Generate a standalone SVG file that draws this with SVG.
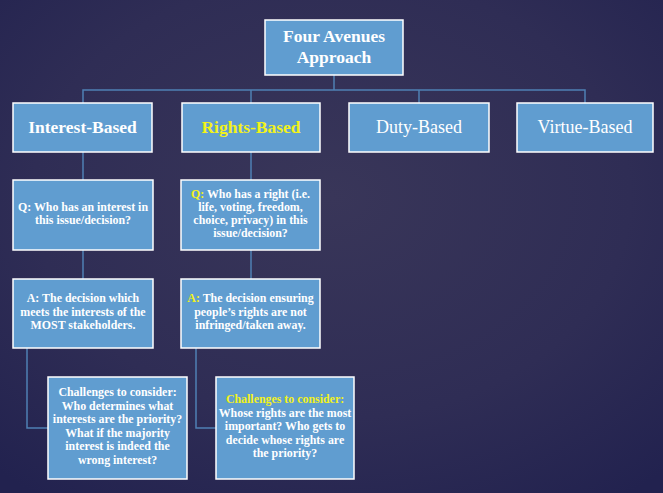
<svg xmlns="http://www.w3.org/2000/svg" width="663" height="493" viewBox="0 0 663 493">
<defs>
<radialGradient id="bg" cx="0.5" cy="0.4" r="0.75">
<stop offset="0" stop-color="#393659"/>
<stop offset="0.6" stop-color="#2f2d55"/>
<stop offset="1" stop-color="#22224f"/>
</radialGradient>
</defs>
<style>
.box{fill:#609dd0;stroke:#ffffff;stroke-width:1.5}
.ln{fill:none;stroke:#4f80b4;stroke-width:1.5}
.t{font-family:"Liberation Serif",serif;fill:#ffffff;text-anchor:middle}
.big{font-size:17.5px;font-weight:bold}
.mid{font-size:18px}
.sm{font-size:11.9px;font-weight:bold}
.y{fill:#f2f21a}
</style>
<rect width="663" height="493" fill="url(#bg)"/>
<g id="connectors">
<path class="ln" d="M334,75 V90 M83,103 V90 H585 V103 M251,90 V103 M419,90 V103"/>
<path class="ln" d="M83,152 V180 M251,152 V180 M83,250 V279 M251,250 V279"/>
<path class="ln" d="M27,348 V428 H48 M196,348 V428 H216"/>
</g>
<g id="top">
<rect class="box" x="265" y="20" width="138" height="55"/>
<text class="t big" x="334" y="42">Four Avenues</text>
<text class="t big" x="334" y="63">Approach</text>
</g>
<g id="interest">
<rect class="box" x="13" y="103" width="139" height="49"/>
<text class="t big" x="82.5" y="133">Interest-Based</text>
</g>
<g id="rights">
<rect class="box" x="182" y="103" width="138" height="49"/>
<text class="t big y" x="251" y="133">Rights-Based</text>
</g>
<g id="duty">
<rect class="box" x="349" y="103" width="140" height="49"/>
<text class="t mid" x="419" y="133">Duty-Based</text>
</g>
<g id="virtue">
<rect class="box" x="517" y="103" width="136" height="49"/>
<text class="t mid" x="585" y="133">Virtue-Based</text>
</g>
<g id="interest-q">
<rect class="box" x="13" y="180" width="140" height="70"/>
<text class="t sm" x="83" y="211">Q: Who has an interest in</text>
<text class="t sm" x="83" y="224">this issue/decision?</text>
</g>
<g id="rights-q">
<rect class="box" x="181" y="180" width="139" height="70"/>
<text class="t sm" x="250.5" y="198"><tspan class="y">Q:</tspan> Who has a right (i.e.</text>
<text class="t sm" x="250.5" y="211">life, voting, freedom,</text>
<text class="t sm" x="250.5" y="224">choice, privacy) in this</text>
<text class="t sm" x="250.5" y="237">issue/decision?</text>
</g>
<g id="interest-a">
<rect class="box" x="13" y="279" width="140" height="69"/>
<text class="t sm" x="83" y="302">A: The decision which</text>
<text class="t sm" x="83" y="315.5">meets the interests of the</text>
<text class="t sm" x="83" y="329">MOST stakeholders.</text>
</g>
<g id="rights-a">
<rect class="box" x="181" y="279" width="139" height="69"/>
<text class="t sm" x="250.5" y="302"><tspan class="y">A:</tspan> The decision ensuring</text>
<text class="t sm" x="250.5" y="315.5">people’s rights are not</text>
<text class="t sm" x="250.5" y="329">infringed/taken away.</text>
</g>
<g id="interest-c">
<rect class="box" x="48" y="377" width="139" height="102"/>
<text class="t sm" x="117.5" y="396">Challenges to consider:</text>
<text class="t sm" x="117.5" y="409.5">Who determines what</text>
<text class="t sm" x="117.5" y="423">interests are the priority?</text>
<text class="t sm" x="117.5" y="436.5">What if the majority</text>
<text class="t sm" x="117.5" y="450">interest is indeed the</text>
<text class="t sm" x="117.5" y="463.5">wrong interest?</text>
</g>
<g id="rights-c">
<rect class="box" x="216" y="377" width="138" height="102"/>
<text class="t sm y" x="285" y="403">Challenges to consider:</text>
<text class="t sm" x="285" y="416.5">Whose rights are the most</text>
<text class="t sm" x="285" y="430">important? Who gets to</text>
<text class="t sm" x="285" y="443.5">decide whose rights are</text>
<text class="t sm" x="285" y="457">the priority?</text>
</g>
</svg>
